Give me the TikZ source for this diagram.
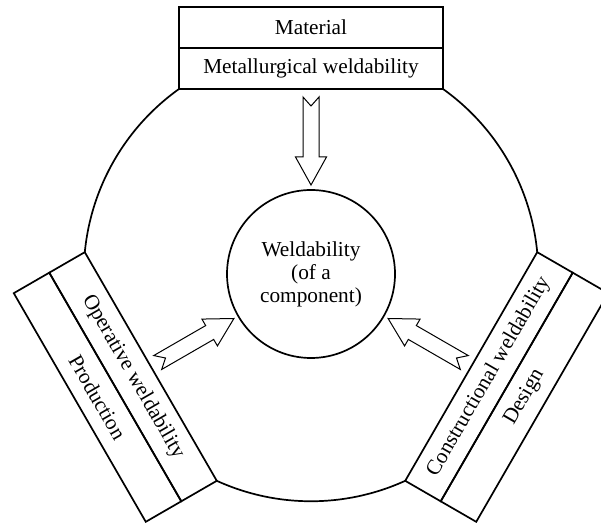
\documentclass[tikz,border=0pt]{standalone}
\usepackage{fontspec}
\setmainfont{Liberation Serif}

\tikzset{
  hollowarrow/.pic={
    \draw[line width=1pt, line join=miter] (0,8) -- (60,8) -- (60,15.5) -- (88,0) -- (60,-15.5) -- (60,-8) -- (0,-8) -- (9,0) -- cycle;
  }
}

\begin{document}
\begin{tikzpicture}[x=1pt, y=1pt, line width=1.7pt,
  half/.style={draw, minimum width=264pt, minimum height=41pt, inner sep=0pt, outer sep=0pt, font=\fontsize{21.3}{23}\selectfont},
  rim/.style={radius=227.26}]
\useasboundingbox (0,0) rectangle (601,524);
\begin{scope}[shift={(311,250)}]
\node[draw, circle, minimum size=168pt, inner sep=0pt, align=center, font=\fontsize{21.3}{23}\selectfont] (core) at (0,0) {Weldability\\(of a\\component)};
\node[half] (metall) at (90:205.5) {Metallurgical weldability};
\node[half] (material) at (90:246.5) {Material};
\node[half, rotate=-60] (operative) at (210:205.5) {Operative weldability};
\node[half, rotate=-60] (production) at (210:246.5) {Production};
\node[half, rotate=60] (constructional) at (330:205.5) {Constructional weldability};
\node[half, rotate=60] (design) at (330:246.5) {Design};
\draw (metall.south west) arc[rim, start angle=125.51, end angle=174.49];
\draw (operative.north east) arc[rim, start angle=245.51, end angle=294.49];
\draw (constructional.north east) arc[rim, start angle=5.51, end angle=54.49];
\pic[rotate=-90] at (90:177) {hollowarrow};
\pic[rotate=30] at (210:177) {hollowarrow};
\pic[rotate=150] at (330:177) {hollowarrow};
\end{scope}
\end{tikzpicture}
\end{document}
